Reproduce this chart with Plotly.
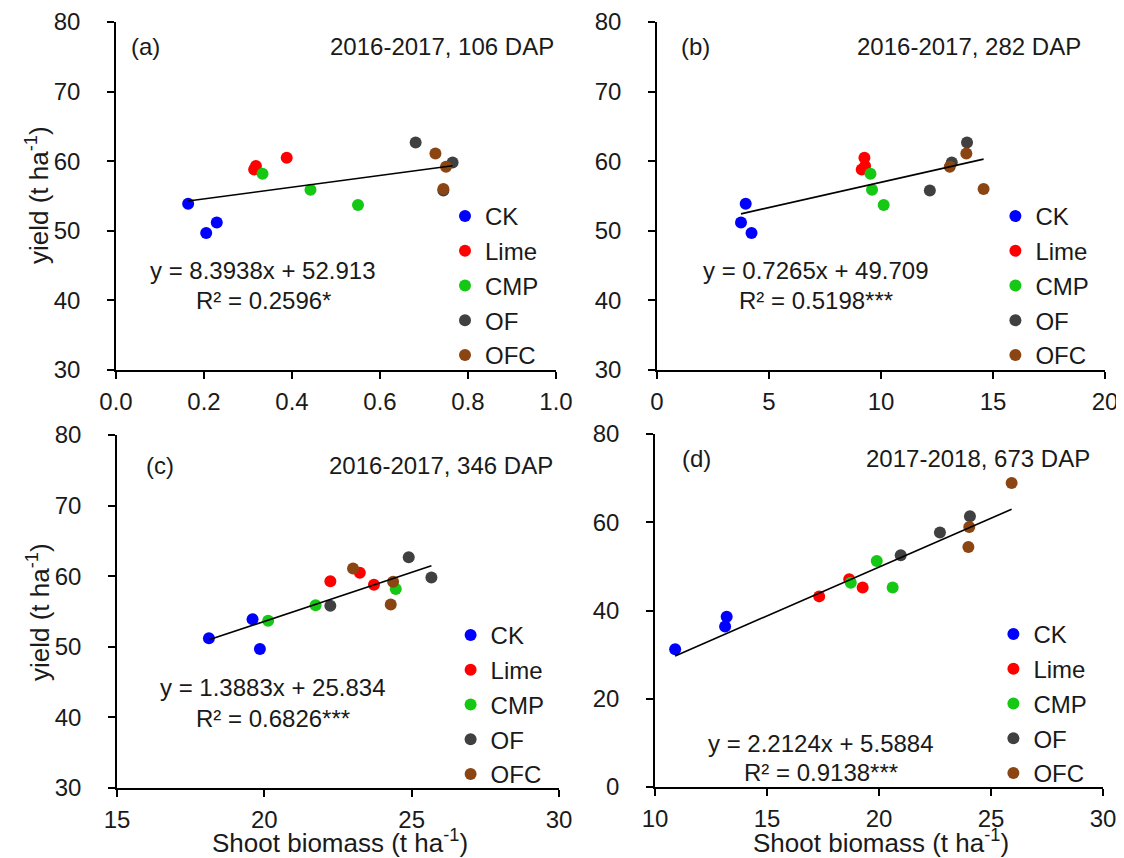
import plotly.graph_objects as go

# ---------------- data ----------------
treatments = ["CK", "Lime", "CMP", "OF", "OFC"]

# 2016-2017 yield (t/ha), three plots per treatment (same plots in panels a, b, c)
yield_1617 = [
    [53.9, 51.2, 49.7],   # CK
    [59.3, 58.8, 60.5],   # Lime
    [58.2, 55.9, 53.7],   # CMP
    [62.7, 59.8, 55.8],   # OF
    [61.1, 59.2, 56.0],   # OFC
]
# shoot biomass (t/ha) paired with yield_1617
biomass_106dap = [
    [0.164, 0.229, 0.205],
    [0.318, 0.314, 0.388],
    [0.333, 0.442, 0.550],
    [0.681, 0.765, 0.744],
    [0.726, 0.750, 0.744],
]
biomass_282dap = [
    [3.96, 3.75, 4.22],
    [9.29, 9.14, 9.26],
    [9.53, 9.60, 10.12],
    [13.84, 13.16, 12.18],
    [13.81, 13.07, 14.58],
]
biomass_346dap = [
    [19.60, 18.12, 19.85],
    [22.24, 23.72, 23.24],
    [24.46, 21.74, 20.13],
    [24.90, 25.67, 22.24],
    [23.01, 24.37, 24.29],
]
# 2017-2018
biomass_673dap = [
    [10.9, 13.20, 13.13],
    [17.33, 18.67, 19.27],
    [18.74, 19.90, 20.61],
    [20.97, 22.72, 24.06],
    [23.99, 24.03, 25.92],
]
yield_1718 = [
    [31.2, 38.6, 36.4],
    [43.2, 47.1, 45.2],
    [46.3, 51.2, 45.2],
    [52.5, 57.7, 61.35],
    [54.4, 58.9, 68.9],
]

panel_labels = ["(a)", "(b)", "(c)", "(d)"]
panel_titles = ["2016-2017, 106 DAP", "2016-2017, 282 DAP",
                "2016-2017, 346 DAP", "2017-2018, 673 DAP"]
slopes = [8.3938, 0.7265, 1.3883, 2.2124]
intercepts = [52.913, 49.709, 25.834, 5.5884]
equations = ["y = 8.3938x + 52.913", "y = 0.7265x + 49.709",
             "y = 1.3883x + 25.834", "y = 2.2124x + 5.5884"]
r2_texts = ["R² = 0.2596*", "R² = 0.5198***", "R² = 0.6826***", "R² = 0.9138***"]

# ---------------- styling ----------------
colors = ["#0000ff", "#ff0000", "#14c814", "#404040", "#8b4513"]
FONT = "Liberation Sans, Arial, sans-serif"
FS = 24
FS_TITLE = 26
TXT = "#1a1a1a"
PAD = 8                      # default page body margin
W, H = 1124 - PAD, 858 - PAD

def px_x(p):
    return (p - PAD) / W

def px_y(p):
    return 1 - (p - PAD) / H

# panel geometry in page pixels: (left, right, top, bottom)
geom = [
    (116, 556, 22, 370),
    (657, 1105, 22, 370),
    (117, 559, 435, 788),
    (655, 1103, 434, 787),
]
xranges = [[0, 1], [0, 20], [15, 30], [10, 30]]
xdticks = [0.2, 5, 5, 5]
yranges = [[30, 80], [30, 80], [30, 80], [0, 80]]
ydticks = [10, 10, 10, 20]
eq_pos = [(0.335, 44.3, 40.0), (7.1, 44.3, 40.0), (20.3, 44.2, 39.9), (17.4, 9.8, 3.4)]
label_x = [0.03, 0.05, 0.06, 0.055]
title_x = [1.0, 0.951, 0.991, 0.975]
title_y = [0.93, 0.93, 0.915, 0.932]
legend_top_off = [176, 176, 175, 175]
legend_x_off = [-23, -20, -20, -20]

xs_all = [biomass_106dap, biomass_282dap, biomass_346dap, biomass_673dap]
ys_all = [yield_1617, yield_1617, yield_1617, yield_1718]

fig = go.Figure()
annotations = []
layout_axes = {}

for p in range(4):
    sfx = "" if p == 0 else str(p + 1)
    xa, ya = "x" + sfx, "y" + sfx
    leg = "legend" + sfx
    xs, ys = xs_all[p], ys_all[p]
    for t, name in enumerate(treatments):
        fig.add_trace(go.Scatter(
            x=xs[t], y=ys[t], mode="markers", name=name,
            marker=dict(color=colors[t], size=12, line=dict(width=0)),
            xaxis=xa, yaxis=ya, legend=leg, legendgroup=f"{p}{name}",
        ))
    allx = [v for row in xs for v in row]
    x0, x1 = min(allx), max(allx)
    fig.add_trace(go.Scatter(
        x=[x0, x1], y=[slopes[p] * x0 + intercepts[p], slopes[p] * x1 + intercepts[p]],
        mode="lines", line=dict(color="black", width=1.6), showlegend=False,
        xaxis=xa, yaxis=ya, hoverinfo="skip",
    ))
    l, r, t_, b = geom[p]
    axis_common = dict(
        showline=True, linecolor="black", linewidth=1.5, ticks="outside",
        tickcolor="black", ticklen=7, tickwidth=1.5, showgrid=False, zeroline=False,
        tickfont=dict(family=FONT, size=FS, color=TXT), ticklabeloverflow="allow",
    )
    layout_axes["xaxis" + sfx] = dict(
        axis_common, domain=[px_x(l), px_x(r)], range=xranges[p], dtick=xdticks[p],
        tick0=xranges[p][0], anchor=ya, tickformat=".1f" if p == 0 else "d",
        ticklabelstandoff=2,
    )
    layout_axes["yaxis" + sfx] = dict(
        axis_common, domain=[px_y(b), px_y(t_)], range=yranges[p], dtick=ydticks[p],
        anchor=xa, ticklabelstandoff=22,
    )
    fig.update_layout(**{leg: dict(
        x=px_x(l + 0.8 * (r - l) + legend_x_off[p]), y=px_y(b - legend_top_off[p]),
        xanchor="left", yanchor="top", bgcolor="rgba(0,0,0,0)",
        font=dict(family=FONT, size=FS, color=TXT), tracegroupgap=0.5,
        itemwidth=30,
    )})
    annotations.append(dict(xref=xa + " domain", yref=ya + " domain", x=label_x[p],
                            y=title_y[p], text=panel_labels[p], showarrow=False,
                            xanchor="left", yanchor="middle",
                            font=dict(family=FONT, size=FS, color=TXT)))
    annotations.append(dict(xref=xa + " domain", yref=ya + " domain", x=title_x[p],
                            y=title_y[p], text=panel_titles[p], showarrow=False,
                            xanchor="right", yanchor="middle",
                            font=dict(family=FONT, size=FS, color=TXT)))
    ex, ey1, ey2 = eq_pos[p]
    annotations.append(dict(xref=xa, yref=ya, x=ex, y=ey1, text=equations[p],
                            showarrow=False, xanchor="center", yanchor="middle",
                            font=dict(family=FONT, size=FS, color=TXT)))
    annotations.append(dict(xref=xa, yref=ya, x=ex, y=ey2, text=r2_texts[p],
                            showarrow=False, xanchor="center", yanchor="middle",
                            font=dict(family=FONT, size=FS, color=TXT)))

# axis titles
for yc in [195, 612]:
    annotations.append(dict(xref="paper", yref="paper", x=px_x(38), y=px_y(yc),
                            xanchor="center", yanchor="middle",
                            text="yield (t ha<sup>-1</sup>)", textangle=-90, showarrow=False,
                            font=dict(family=FONT, size=FS_TITLE, color=TXT)))
for xc in [340, 881]:
    annotations.append(dict(xref="paper", yref="paper", x=px_x(xc), y=px_y(841),
                            xanchor="center", yanchor="middle",
                            text="Shoot biomass (t ha<sup>-1</sup>)", showarrow=False,
                            font=dict(family=FONT, size=FS_TITLE, color=TXT)))

fig.update_layout(
    width=W, height=H, margin=dict(l=0, r=0, t=0, b=0, autoexpand=False),
    paper_bgcolor="white", plot_bgcolor="white",
    annotations=annotations, showlegend=True,
    **layout_axes,
)

fig.write_html("out.html")
